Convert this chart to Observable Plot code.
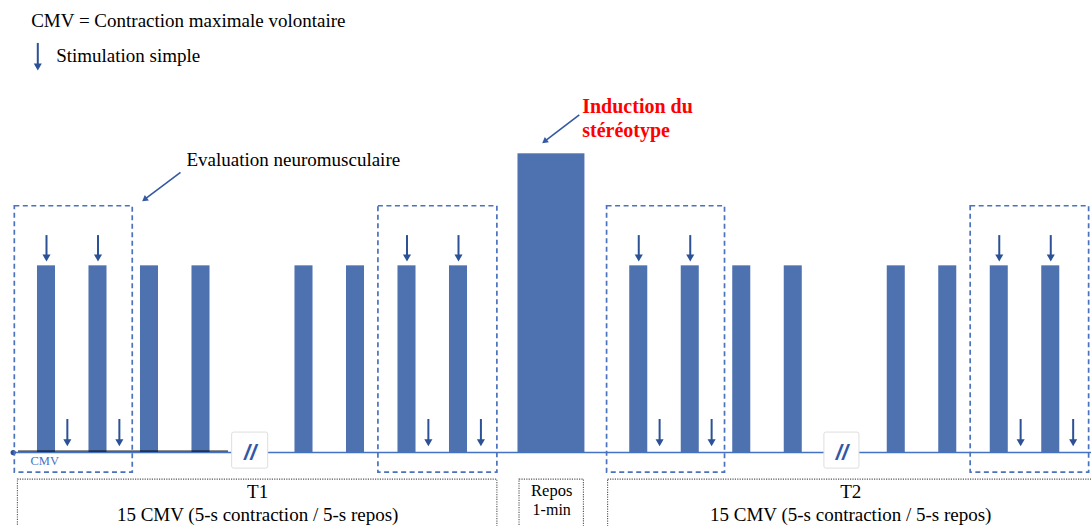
<!DOCTYPE html>
<html><head><meta charset="utf-8">
<script src="https://cdn.jsdelivr.net/npm/d3@7"></script>
<script src="https://cdn.jsdelivr.net/npm/@observablehq/plot@0.6"></script>
<style>
body{margin:0;background:#fff}
#chart svg{overflow:hidden;display:block}
</style>
</head><body><div id="chart"></div>
<script>
// ---- data (schematic time in s, force in % CMV) ----
const contractionStarts = [0,10,20,30,50,60,70,80,115,125,135,145,165,175,185,195];
const contractionDuration = 3.5;
const contractionForce = 100;
const stereotypeBlock = [{start: 93.3, end: 106.3, force: 160}];
const stimDuring = [0,10,70,80,115,125,185,195];          // contractions with a stimulation
const stimAfter = [5.8,15.9,75.9,86.1,120.8,130.9,190.9,201.1]; // stimulations at rest
const evalWindows = [[-4.4,18.5],[66.2,89.3],[110.6,133.5],[181.2,204.2]];
const phaseNames = ["T1", "Repos", "T2"];
const phaseSubs = ["15 CMV (5-s contraction / 5-s repos)", "1-min", "15 CMV (5-s contraction / 5-s repos)"];
const phaseStart = [-3.8, 93.6, 110.8];
const phaseEnd = [89.3, 106.1, 205];
const breaks = [[37.8,44.8],[152.8,159.6]];

// ---- styling ----
const barColor = "#4e71b0";
const arrowColor = "#2c5195";
const boxColor = "#4a72bd";
const serif = "Liberation Serif, Times New Roman, serif";

const phases = phaseNames.map((n,i)=>({name:n, sub:phaseSubs[i], start:phaseStart[i], end:phaseEnd[i]}));
const bigPhases = phases.filter(p=>p.name!=="Repos");
const restPhase = phases.filter(p=>p.name==="Repos");

// annotation anchors (in data units)
const legendLines = [{x:-1.22, y:227.8, t:"CMV = Contraction maximale volontaire"},
                     {x:3.63, y:209.1, t:"Stimulation simple"}];
const legendArrow = [{x:0.06, y1:219.1, y2:206.6, tip:204.6}];
const evalLabel = [{x:28.93, y:153.7, t:"Evaluation neuromusculaire"}];
const inductionLabel = [{x:105.77, y:181.6, t:"Induction du"},{x:105.77, y:168.9, t:"stéréotype"}];
const pointers = [
  {x1:27.77, y1:150.1, x2:20.79, y2:135.6, tx:20.33, ty:134.6},
  {x1:105.2, y1:180.9, x2:98.46, y2:166.7, tx:98.0, ty:165.7}
];

const upArrows = stimDuring.map(s=>({x:s+contractionDuration/2, y1:116.2, y2:104.3, tip:102.3}));
const lowArrows = stimAfter.map(s=>({x:s, y1:17.7, y2:5.4, tip:3.4}));
const allDown = [...upArrows, ...lowArrows, ...legendArrow];

const chart = Plot.plot({
  width: 1091, height: 526,
  marginTop: 0, marginRight: 0, marginBottom: 0, marginLeft: 0,
  style: {fontFamily: serif, background: "white"},
  x: {axis: null, domain: [-7.18, 204.66]},
  y: {axis: null, domain: [-39.6, 242.1]},
  marks: [
    // baseline
    Plot.ruleY([0], {x1: -4.72, x2: 206, stroke: "#4472c4", strokeWidth: 1.5}),
    Plot.dot([0], {x: -4.72, y: 0, r: 2.6, fill: arrowColor}),
    // contractions
    Plot.rect(contractionStarts, {x1: d=>d, x2: d=>d+contractionDuration, y1: 0, y2: contractionForce, fill: barColor}),
    Plot.rect(stereotypeBlock, {x1: "start", x2: "end", y1: 0, y2: "force", fill: barColor}),
    Plot.ruleY([0.8], {x1: -3.69, x2: 37.09, stroke: "#000", strokeWidth: 1}),
    // time breaks
    Plot.rect(breaks, {x1: d=>d[0], x2: d=>d[1], y1: -8.6, y2: 10.7, fill: "white", stroke: "#dedede", strokeWidth: 1, rx: 2}),
    Plot.text(breaks, {x: d=>(d[0]+d[1])/2, y: 0, text: ()=>"//", fontFamily: "Liberation Sans, Arial, sans-serif", fontStyle: "italic", fontWeight: "bold", fontSize: 22, fill: "#3158a6", lineAnchor: "middle"}),
    Plot.text([0], {x: -1.36, y: -6.4, text: ()=>"CMV", fontFamily: serif, fontSize: 12.5, fill: "#4a72c4", textAnchor: "start", lineAnchor: "bottom"}),
    // stimulation arrows
    Plot.ruleX(allDown, {x: "x", y1: "y1", y2: "y2", stroke: arrowColor, strokeWidth: 2}),
    Plot.dot(allDown, {x: "x", y: "tip", symbol: "triangle", r: 3, rotate: 180, dy: -4.6, fill: arrowColor, stroke: "none"}),
    // evaluation windows
    Plot.rect(evalWindows, {x1: d=>d[0], x2: d=>d[1], y1: -10.7, y2: 131.9, fill: "none", stroke: boxColor, strokeWidth: 1.7, strokeDasharray: "5,3.5"}),
    // phase boxes
    Plot.rect(phases, {x1: "start", x2: "end", y1: -45, y2: -14.5, fill: "none", stroke: "#555", strokeWidth: 1.1, strokeDasharray: "1.2,1.2"}),
    Plot.text(bigPhases, {x: d=>(d.start+d.end)/2, y: -24.6, text: "name", fontFamily: serif, fontSize: 19, fill: "#000", lineAnchor: "bottom"}),
    Plot.text(bigPhases, {x: d=>(d.start+d.end)/2, y: -36.4, text: "sub", fontFamily: serif, fontSize: 19, fill: "#000", lineAnchor: "bottom"}),
    Plot.text(restPhase, {x: d=>(d.start+d.end)/2, y: -23.0, text: "name", fontFamily: serif, fontSize: 16.5, fill: "#000", lineAnchor: "bottom"}),
    Plot.text(restPhase, {x: d=>(d.start+d.end)/2, y: -33.7, text: "sub", fontFamily: serif, fontSize: 16, fill: "#000", lineAnchor: "bottom"}),
    // annotations
    Plot.text(legendLines, {x: "x", y: "y", text: "t", fontFamily: serif, fontSize: 19, fill: "#000", textAnchor: "start", lineAnchor: "bottom"}),
    Plot.text(evalLabel, {x: "x", y: "y", text: "t", fontFamily: serif, fontSize: 19, fill: "#000", textAnchor: "start", lineAnchor: "bottom"}),
    Plot.text(inductionLabel, {x: "x", y: "y", text: "t", fontFamily: serif, fontSize: 20, fontWeight: "bold", fill: "#ff0000", textAnchor: "start", lineAnchor: "bottom"}),
    Plot.link(pointers, {x1: "x1", y1: "y1", x2: "x2", y2: "y2", stroke: "#3558a3", strokeWidth: 1.6}),
    Plot.dot(pointers, {x: "tx", y: "ty", symbol: "triangle", r: 2.5, rotate: 233, dx: 3.1, dy: -2.35, fill: "#3558a3", stroke: "none"})
  ]
});
document.getElementById("chart").appendChild(chart);
</script>
</body></html>
